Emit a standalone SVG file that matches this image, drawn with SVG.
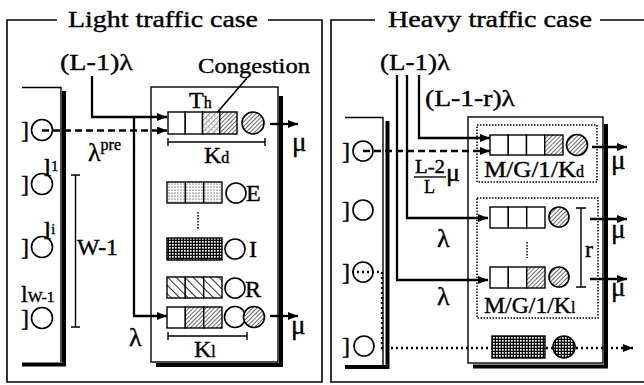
<svg xmlns="http://www.w3.org/2000/svg" width="644" height="385" viewBox="0 0 644 385">
<style>
.t{font-family:"Liberation Serif","Times New Roman",serif;font-size:24px;fill:#000;stroke:#000;stroke-width:0.4}
.s{font-size:16px}
.fr{fill:none;stroke:#000;stroke-width:1.6}
.thin{fill:none;stroke:#000;stroke-width:1.4}
.sh{fill:none;stroke:#000;stroke-width:4}
.ln{fill:none;stroke:#000;stroke-width:2.3}
.dash{fill:none;stroke:#000;stroke-width:2.3;stroke-dasharray:7,4}
.dot{fill:none;stroke:#000;stroke-width:2.3;stroke-dasharray:2,3}
.cell{stroke:#000;stroke-width:1.4}
.cir{fill:none;stroke:#000;stroke-width:1.6}
.dotbox{fill:none;stroke:#000;stroke-width:1.5;stroke-dasharray:1.5,1.5}
</style>
<defs>
<marker id="ah" viewBox="0 0 10 8" refX="10" refY="4" markerWidth="11" markerHeight="8" markerUnits="userSpaceOnUse" orient="auto"><path d="M0,0 L10,4 L0,8 z" fill="#000"/></marker>
<pattern id="hatch" width="3" height="3" patternUnits="userSpaceOnUse" patternTransform="rotate(45)"><rect width="3" height="3" fill="#fff"/><line x1="0" y1="0" x2="0" y2="3" stroke="#000" stroke-width="1.2"/></pattern>
<pattern id="lhatch" width="4" height="4" patternUnits="userSpaceOnUse" patternTransform="rotate(45)"><rect width="4" height="4" fill="#fff"/><line x1="0" y1="0" x2="0" y2="4" stroke="#000" stroke-width="0.8"/><circle cx="2" cy="2" r="0.5" fill="#000"/></pattern>
<pattern id="dots" width="3" height="3" patternUnits="userSpaceOnUse"><rect width="3" height="3" fill="#fff"/><circle cx="1" cy="1" r="0.6" fill="#000"/></pattern>
<pattern id="grid" width="3" height="3" patternUnits="userSpaceOnUse"><rect width="3" height="3" fill="#000"/><rect x="1" y="1" width="1.7" height="1.7" fill="#fff"/></pattern>
<pattern id="stripe" width="6" height="6" patternUnits="userSpaceOnUse" patternTransform="rotate(-45)"><rect width="6" height="6" fill="#fff"/><line x1="0" y1="0" x2="0" y2="6" stroke="#000" stroke-width="1.6"/></pattern>
</defs>

<!-- LEFT PANEL -->
<g id="left-frame">
<path class="fr" d="M57,20 H7 V382 H322 V20 H268"/>
<text class="t" x="68" y="27" style="font-size:23px" textLength="190" lengthAdjust="spacingAndGlyphs">Light traffic case</text>
</g>

<g id="left-stack">
<path class="thin" d="M22,87.5 H61 V362"/>
<path class="sh" d="M64,91 V364.5 H22"/>
<text class="t" x="21" y="138">]</text><circle class="cir" cx="42" cy="130" r="10.5"/>
<text class="t" x="21" y="192">]</text><circle class="cir" cx="42" cy="184" r="10.5"/>
<text class="t" x="21" y="255">]</text><circle class="cir" cx="42" cy="247" r="10.5"/>
<text class="t" x="21" y="326">]</text><circle class="cir" cx="42" cy="318" r="10.5"/>
<text class="t" x="44" y="176" style="font-size:26px">l<tspan dy="-5" style="font-size:14px">1</tspan></text>
<text class="t" x="44" y="239" style="font-size:26px">l<tspan dy="-5" style="font-size:14px">i</tspan></text>
<text class="t" x="21" y="302">l<tspan style="font-size:15px" textLength="27" lengthAdjust="spacingAndGlyphs">W-1</tspan></text>
</g>

<g id="w-bracket">
<path class="thin" d="M75.5,175 V327 M71,175 H80 M71,327 H80"/>
<text class="t" x="77" y="255" textLength="41" lengthAdjust="spacingAndGlyphs">W-1</text>
</g>

<g id="left-connectors">
<path class="ln" d="M92,76 V117 H167" marker-end="url(#ah)"/>
<path class="ln" d="M134,117 V316 H167" marker-end="url(#ah)"/>
<path class="dash" d="M42,130.5 H167" marker-end="url(#ah)"/>
<path class="ln" d="M270,124 H298" marker-end="url(#ah)"/>
<path class="ln" d="M270,316 H298" marker-end="url(#ah)"/>
<path fill="none" stroke="#000" stroke-width="1.7" d="M247,78 L209,122" marker-end="url(#ah)"/>
</g>

<g id="left-labels">
<text class="t" x="60" y="70" textLength="73" lengthAdjust="spacingAndGlyphs">(L-1)λ</text>
<text class="t" x="88" y="161" style="font-size:26px">λ<tspan dy="-11" style="font-size:16px">pre</tspan></text>
<text class="t" x="129" y="346" style="font-size:26px">λ</text>
<text class="t" x="292" y="151" style="font-size:27px">μ</text>
<text class="t" x="291" y="334" style="font-size:27px">μ</text>
<text class="t" x="198" y="73" style="font-size:22px" textLength="112" lengthAdjust="spacingAndGlyphs">Congestion</text>
</g>

<g id="left-box">
<rect class="thin" x="151" y="87" width="127" height="275"/>
<path class="sh" d="M281,96 V365 H156"/>
</g>

<g id="queue-Kd-light">
<rect class="cell" x="168" y="112" width="17.25" height="22" fill="#fff"/>
<rect class="cell" x="185.25" y="112" width="17.25" height="22" fill="#fff"/>
<rect class="cell" x="202.5" y="112" width="17.25" height="22" fill="url(#lhatch)"/>
<rect class="cell" x="219.75" y="112" width="17.25" height="22" fill="url(#hatch)"/>
<circle cx="253" cy="123" r="11" fill="url(#hatch)" stroke="#000" stroke-width="1.6"/>
<text class="t" x="189" y="108">T<tspan class="s">h</tspan></text>
<path class="thin" d="M168,142 H265 M168,138 V146 M265,138 V146"/>
<text class="t" x="204" y="163">K<tspan class="s">d</tspan></text>
</g>

<g id="queue-E">
<rect class="cell" x="167" y="182" width="55" height="21" fill="url(#dots)"/>
<path class="thin" d="M185.3,182 V203 M203.7,182 V203"/>
<circle cx="236" cy="193" r="10" fill="#fff" stroke="#000" stroke-width="1.6"/>
<text class="t" x="246" y="201">E</text>
<path fill="none" stroke="#000" stroke-width="1.5" stroke-dasharray="1.5,1.5" d="M198,212 V229"/>
</g>

<g id="queue-I">
<rect class="cell" x="167" y="238" width="55" height="22" fill="url(#grid)"/>
<circle cx="235" cy="249" r="10" fill="#fff" stroke="#000" stroke-width="1.6"/>
<text class="t" x="249" y="257">I</text>
</g>

<g id="queue-R">
<rect class="cell" x="167" y="277" width="18.3" height="21" fill="url(#stripe)"/>
<rect class="cell" x="185.3" y="277" width="18.4" height="21" fill="url(#stripe)"/>
<rect class="cell" x="203.7" y="277" width="18.3" height="21" fill="url(#stripe)"/>
<circle cx="235" cy="288" r="10" fill="#fff" stroke="#000" stroke-width="1.6"/>
<text class="t" x="245" y="297">R</text>
</g>

<g id="queue-Kl-light">
<rect class="cell" x="167" y="307" width="18.3" height="21" fill="#fff"/>
<rect class="cell" x="185.3" y="307" width="18.4" height="21" fill="url(#hatch)"/>
<rect class="cell" x="203.7" y="307" width="18.3" height="21" fill="url(#hatch)"/>
<circle cx="235" cy="317" r="10.5" fill="#fff" stroke="#000" stroke-width="1.6"/>
<circle cx="254" cy="317" r="10.5" fill="url(#hatch)" stroke="#000" stroke-width="1.6"/>
<path class="thin" d="M168,336 H247 M168,332 V340 M247,332 V340"/>
<text class="t" x="194" y="357">K<tspan class="s">l</tspan></text>
</g>

<!-- RIGHT PANEL -->
<g id="right-frame">
<path class="fr" d="M375,20 H331 V382 H646 M646,20 H600"/>
<text class="t" x="388" y="27" style="font-size:23px" textLength="204" lengthAdjust="spacingAndGlyphs">Heavy traffic case</text>
</g>

<g id="right-connectors">
<path class="ln" d="M397,75 V280 H488" marker-end="url(#ah)"/>
<path class="ln" d="M407,75 V218 H488" marker-end="url(#ah)"/>
<path class="ln" d="M419,75 V138 H490" marker-end="url(#ah)"/>
<path class="dash" d="M363,151 H490" marker-end="url(#ah)"/>
<path class="dot" d="M352,272 H382 V348 H633" marker-end="url(#ah)"/>
<path class="ln" d="M592,147 H627" marker-end="url(#ah)"/>
<path class="ln" d="M590,219 H627" marker-end="url(#ah)"/>
<path class="ln" d="M590,279 H627" marker-end="url(#ah)"/>
</g>

<g id="right-stack">
<path class="thin" d="M345,117.5 H383 V365"/>
<path class="sh" d="M387.5,121 V367 H345"/>
<text class="t" x="342" y="159">]</text><circle class="cir" cx="363" cy="151" r="10"/>
<text class="t" x="342" y="218">]</text><circle class="cir" cx="363" cy="210" r="10"/>
<text class="t" x="342" y="280">]</text><circle class="cir" cx="363" cy="272" r="10"/>
<text class="t" x="342" y="354">]</text><circle class="cir" cx="364" cy="346" r="10"/>
</g>

<g id="right-labels">
<text class="t" x="380" y="70" textLength="70" lengthAdjust="spacingAndGlyphs">(L-1)λ</text>
<text class="t" x="425" y="106" textLength="90" lengthAdjust="spacingAndGlyphs">(L-1-r)λ</text>
<text class="t" x="415" y="173" style="font-size:18px" textLength="30" lengthAdjust="spacingAndGlyphs">L-2</text>
<line x1="414" y1="177" x2="446" y2="177" stroke="#000" stroke-width="1.4"/>
<text class="t" x="424" y="193" style="font-size:18px">L</text>
<text class="t" x="446" y="181" style="font-size:26px">μ</text>
<text class="t" x="437" y="247" style="font-size:26px">λ</text>
<text class="t" x="437" y="305" style="font-size:26px">λ</text>
<text class="t" x="611" y="169" style="font-size:27px">μ</text>
<text class="t" x="611" y="238" style="font-size:27px">μ</text>
<text class="t" x="611" y="296" style="font-size:27px">μ</text>
</g>

<g id="right-box">
<rect class="thin" x="468" y="117" width="135" height="246"/>
<path class="sh" d="M606,124 V366.5 H473"/>
</g>

<g id="mg1-Kd">
<rect class="dotbox" x="477" y="125" width="120" height="57"/>
<rect class="cell" x="490" y="135" width="18.25" height="20" fill="#fff"/>
<rect class="cell" x="508.25" y="135" width="18.25" height="20" fill="#fff"/>
<rect class="cell" x="526.5" y="135" width="18.25" height="20" fill="#fff"/>
<rect class="cell" x="544.75" y="135" width="18.25" height="20" fill="url(#hatch)"/>
<circle cx="577" cy="145" r="10.5" fill="url(#hatch)" stroke="#000" stroke-width="1.6"/>
<text class="t" x="484" y="177"><tspan textLength="92" lengthAdjust="spacingAndGlyphs">M/G/1/K</tspan><tspan class="s">d</tspan></text>
</g>

<g id="mg1-Kl">
<rect class="dotbox" x="477" y="198" width="121" height="120"/>
<rect class="cell" x="490" y="207" width="18.3" height="21" fill="#fff"/>
<rect class="cell" x="508.3" y="207" width="18.4" height="21" fill="#fff"/>
<rect class="cell" x="526.7" y="207" width="18.3" height="21" fill="#fff"/>
<circle cx="559" cy="217" r="10" fill="url(#hatch)" stroke="#000" stroke-width="1.6"/>
<path fill="none" stroke="#000" stroke-width="1.5" stroke-dasharray="1.5,1.5" d="M527,242 V258"/>
<rect class="cell" x="490" y="267" width="18.3" height="21" fill="#fff"/>
<rect class="cell" x="508.3" y="267" width="18.4" height="21" fill="#fff"/>
<rect class="cell" x="526.7" y="267" width="18.3" height="21" fill="url(#hatch)"/>
<circle cx="559" cy="277" r="10" fill="url(#hatch)" stroke="#000" stroke-width="1.6"/>
<path class="thin" d="M581,208 V287 M576,208 H586 M576,287 H586"/>
<text class="t" x="585" y="257">r</text>
<text class="t" x="484" y="313"><tspan textLength="87" lengthAdjust="spacingAndGlyphs">M/G/1/K</tspan><tspan class="s">l</tspan></text>
</g>

<g id="grid-queue">
<rect class="cell" x="492" y="336" width="53" height="22" fill="url(#grid)"/>
<circle cx="564" cy="347" r="11" fill="url(#grid)" stroke="#000" stroke-width="1.6"/>
</g>
</svg>
